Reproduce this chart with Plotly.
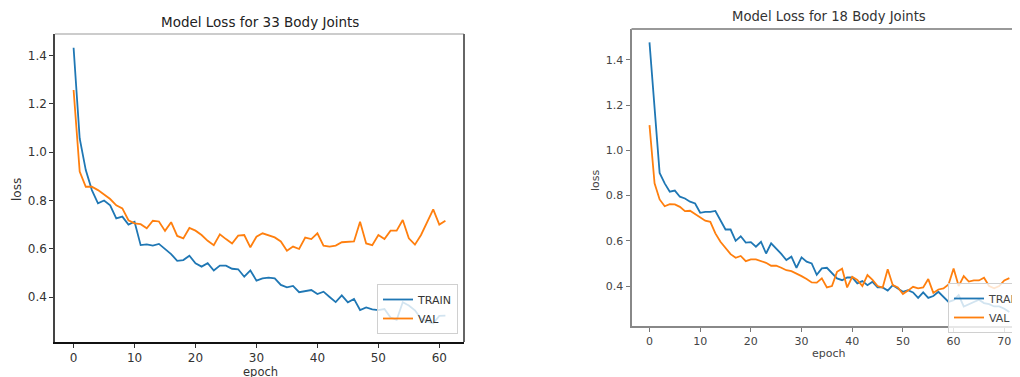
import plotly.graph_objects as go

# ---- Data: 33 body joints ----
epochs_33 = list(range(62))
train_33 = [1.433, 1.057, 0.926, 0.843, 0.788, 0.800, 0.780, 0.726, 0.733, 0.700,
            0.712, 0.615, 0.618, 0.613, 0.620, 0.600, 0.578, 0.550, 0.553, 0.571,
            0.540, 0.526, 0.540, 0.510, 0.530, 0.530, 0.517, 0.515, 0.484, 0.510,
            0.468, 0.477, 0.480, 0.477, 0.450, 0.440, 0.446, 0.420, 0.426, 0.429,
            0.412, 0.422, 0.400, 0.379, 0.407, 0.378, 0.392, 0.346, 0.357, 0.349,
            0.346, 0.350, 0.315, 0.305, 0.378, 0.365, 0.345, 0.310, 0.300, 0.290,
            0.322, 0.323]
val_33 = [1.258, 0.920, 0.857, 0.857, 0.843, 0.823, 0.806, 0.780, 0.767, 0.718,
          0.705, 0.702, 0.685, 0.716, 0.713, 0.674, 0.710, 0.653, 0.643, 0.686,
          0.675, 0.657, 0.633, 0.615, 0.660, 0.640, 0.622, 0.654, 0.657, 0.606,
          0.650, 0.664, 0.657, 0.647, 0.630, 0.592, 0.609, 0.599, 0.646, 0.640,
          0.664, 0.613, 0.609, 0.613, 0.627, 0.630, 0.630, 0.712, 0.622, 0.615,
          0.657, 0.640, 0.675, 0.675, 0.719, 0.643, 0.617, 0.657, 0.712, 0.763,
          0.700, 0.716]

# ---- Data: 18 body joints ----
epochs_18 = list(range(72))
train_18 = [1.477, 1.180, 0.900, 0.854, 0.817, 0.822, 0.795, 0.787, 0.773, 0.765,
            0.724, 0.728, 0.728, 0.732, 0.689, 0.650, 0.650, 0.600, 0.620, 0.592,
            0.594, 0.574, 0.596, 0.544, 0.589, 0.567, 0.542, 0.515, 0.530, 0.481,
            0.527, 0.508, 0.500, 0.450, 0.478, 0.481, 0.459, 0.434, 0.426, 0.438,
            0.438, 0.412, 0.422, 0.404, 0.419, 0.394, 0.394, 0.380, 0.404, 0.390,
            0.375, 0.382, 0.372, 0.348, 0.372, 0.348, 0.356, 0.375, 0.350, 0.330,
            0.338, 0.360, 0.310, 0.320, 0.330, 0.340, 0.325, 0.320, 0.310, 0.310,
            0.300, 0.285]
val_18 = [1.111, 0.854, 0.783, 0.753, 0.762, 0.761, 0.750, 0.731, 0.733, 0.718,
          0.703, 0.689, 0.684, 0.633, 0.596, 0.567, 0.541, 0.525, 0.533, 0.510,
          0.518, 0.518, 0.512, 0.503, 0.490, 0.490, 0.481, 0.470, 0.466, 0.456,
          0.444, 0.431, 0.416, 0.415, 0.434, 0.394, 0.400, 0.463, 0.477, 0.394,
          0.441, 0.427, 0.400, 0.449, 0.427, 0.400, 0.393, 0.474, 0.404, 0.394,
          0.365, 0.380, 0.397, 0.390, 0.394, 0.431, 0.370, 0.385, 0.390, 0.407,
          0.478, 0.400, 0.444, 0.420, 0.425, 0.425, 0.437, 0.400, 0.390, 0.400,
          0.425, 0.435]

titles = ["Model Loss for 33 Body Joints", "Model Loss for 18 Body Joints"]
x_label = "epoch"
y_label = "loss"
series_names = ["TRAIN", "VAL"]
y_ticks = [0.4, 0.6, 0.8, 1.0, 1.2, 1.4]
y_tick_text = ["0.4", "0.6", "0.8", "1.0", "1.2", "1.4"]
x_ticks_33 = [0, 10, 20, 30, 40, 50, 60]
x_ticks_18 = [0, 10, 20, 30, 40, 50, 60, 70]

BLUE = "#1f77b4"
ORANGE = "#ff7f0e"
FONT = "DejaVu Sans"
W, H = 1020, 377
OFF = 8  # page body margin offset


def px_x(p):
    return (p - OFF) / W


def px_y(p):
    return 1 - (p - OFF) / H


fig = go.Figure()

fig.add_trace(go.Scatter(x=epochs_33, y=train_33, mode="lines", name=series_names[0],
                         line=dict(color=BLUE, width=1.8), xaxis="x", yaxis="y",
                         legend="legend"))
fig.add_trace(go.Scatter(x=epochs_33, y=val_33, mode="lines", name=series_names[1],
                         line=dict(color=ORANGE, width=1.8), xaxis="x", yaxis="y",
                         legend="legend"))
fig.add_trace(go.Scatter(x=epochs_18, y=train_18, mode="lines", name=series_names[0],
                         line=dict(color=BLUE, width=1.8), xaxis="x2", yaxis="y2",
                         legend="legend2"))
fig.add_trace(go.Scatter(x=epochs_18, y=val_18, mode="lines", name=series_names[1],
                         line=dict(color=ORANGE, width=1.8), xaxis="x2", yaxis="y2",
                         legend="legend2"))

tickfont_l = dict(family=FONT, size=12, color="#333")
tickfont_r = dict(family=FONT, size=11, color="#444")

fig.update_layout(
    width=W, height=H,
    margin=dict(l=0, r=0, t=0, b=0, autoexpand=False),
    paper_bgcolor="white", plot_bgcolor="white",
    font=dict(family=FONT, color="#333"),
    xaxis=dict(domain=[px_x(55), px_x(464)], range=[-3.05, 64.05],
               tickvals=x_ticks_33, ticks="outside", ticklen=4,
               tickcolor="#333", showgrid=False, zeroline=False, showline=True,
               linecolor="#111", linewidth=2, tickfont=tickfont_l, anchor="y"),
    yaxis=dict(domain=[px_y(342), px_y(34)], range=[0.2135, 1.49],
               tickvals=y_ticks, ticktext=y_tick_text, ticks="outside", ticklen=4,
               tickcolor="#333", showgrid=False, zeroline=False, showline=True,
               linecolor="#444", linewidth=1.5, tickfont=tickfont_l, anchor="x"),
    xaxis2=dict(domain=[px_x(631.5), px_x(1020)], range=[-3.55, 73.1],
                tickvals=x_ticks_18, ticks="outside", ticklen=4,
                tickcolor="#777", showgrid=False, zeroline=False, showline=True,
                linecolor="#888", linewidth=2, tickfont=tickfont_r, anchor="y2"),
    yaxis2=dict(domain=[px_y(325.7), px_y(29)], range=[0.225, 1.536],
                tickvals=y_ticks, ticktext=y_tick_text, ticks="outside", ticklen=4,
                tickcolor="#777", showgrid=False, zeroline=False, showline=True,
                linecolor="#888", linewidth=2, tickfont=tickfont_r, anchor="x2"),
    legend=dict(x=px_x(458), y=px_y(334), xanchor="right", yanchor="bottom",
                bgcolor="rgba(255,255,255,0.8)", bordercolor="#d0d0d0", borderwidth=1,
                font=dict(family=FONT, size=11, color="#333"), tracegroupgap=0),
    legend2=dict(x=px_x(948), y=px_y(283), xanchor="left", yanchor="top",
                 bgcolor="rgba(255,255,255,0.8)", bordercolor="#d0d0d0", borderwidth=1,
                 font=dict(family=FONT, size=11, color="#444"), tracegroupgap=0),
    showlegend=True,
    annotations=[
        dict(text=titles[0], x=px_x(259.5), y=px_y(22), xref="paper", yref="paper",
             showarrow=False, font=dict(family=FONT, size=13.5, color="#222"),
             xanchor="center", yanchor="middle"),
        dict(text=titles[1], x=px_x(829), y=px_y(17), xref="paper", yref="paper",
             showarrow=False, font=dict(family=FONT, size=13.2, color="#333"),
             xanchor="center", yanchor="middle"),
        dict(text=x_label, x=px_x(260), y=px_y(371.5), xref="paper", yref="paper",
             showarrow=False, font=dict(family=FONT, size=11.5, color="#333"),
             xanchor="center", yanchor="middle"),
        dict(text=y_label, x=px_x(17), y=px_y(190), xref="paper", yref="paper",
             showarrow=False, font=dict(family=FONT, size=12, color="#333"),
             xanchor="center", yanchor="middle", textangle=-90),
        dict(text=x_label, x=px_x(829), y=px_y(353), xref="paper", yref="paper",
             showarrow=False, font=dict(family=FONT, size=11, color="#444"),
             xanchor="center", yanchor="middle"),
        dict(text=y_label, x=px_x(595), y=px_y(180), xref="paper", yref="paper",
             showarrow=False, font=dict(family=FONT, size=11, color="#444"),
             xanchor="center", yanchor="middle", textangle=-90),
    ],
    shapes=[
        dict(type="line", xref="x domain", yref="y domain", x0=0, x1=1, y0=1, y1=1,
             line=dict(color="#bbbbbb", width=1.5)),
        dict(type="line", xref="x domain", yref="y domain", x0=1, x1=1, y0=0, y1=1,
             line=dict(color="#666666", width=2)),
        dict(type="line", xref="x2 domain", yref="y2 domain", x0=0, x1=1, y0=1, y1=1,
             line=dict(color="#999999", width=2)),
    ],
)

fig.write_html("out.html")
